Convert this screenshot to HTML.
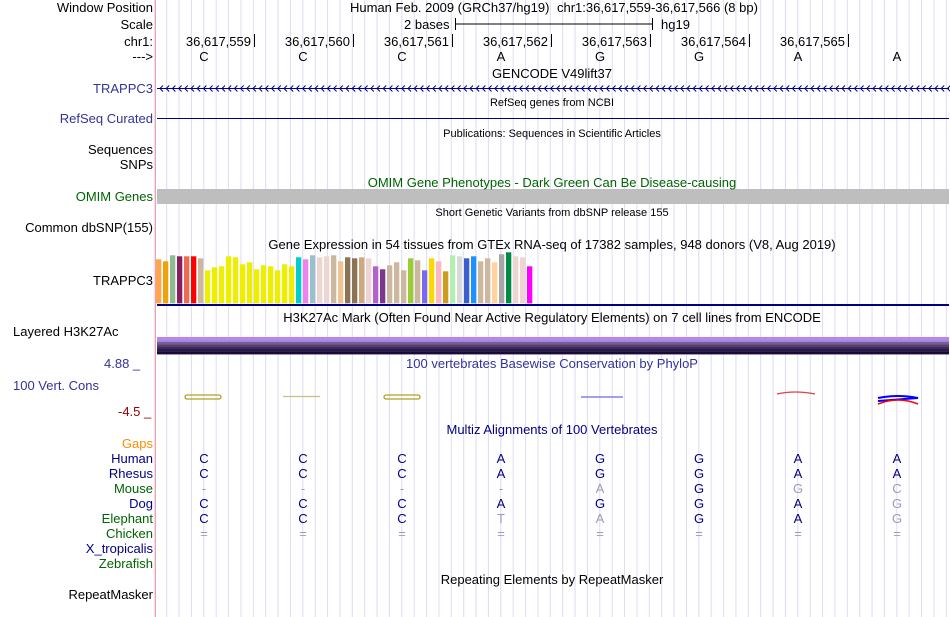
<!DOCTYPE html>
<html><head><meta charset="utf-8">
<style>
body{margin:0;width:950px;height:617px;background:#fff;overflow:hidden;position:relative;font-family:"Liberation Sans",sans-serif;font-size:13px;color:#000}
.a{position:absolute;white-space:nowrap;line-height:15px}
.l{position:absolute;right:797px;text-align:right;white-space:nowrap;line-height:15px}
.c{position:absolute;white-space:nowrap;line-height:15px;transform:translateX(-50%)}
.s{font-size:11px}
svg{position:absolute;left:0;top:0}
</style></head>
<body>
<svg id="grid" width="950" height="617"></svg>

<div class="l" style="top:0">Window Position</div>
<div class="l" style="top:17px">Scale</div>
<div class="l" style="top:34px">chr1:</div>
<div class="l" style="top:49px">---&gt;</div>
<div class="a" style="left:350px;top:0">Human Feb. 2009 (GRCh37/hg19)</div>
<div class="a" style="left:557px;top:0">chr1:36,617,559-36,617,566 (8 bp)</div>
<div class="a" style="left:404px;top:17px">2 bases</div>
<div class="a" style="left:661px;top:17px">hg19</div>

<div class="c" style="left:552px;top:66px">GENCODE V49lift37</div>
<div class="l" style="top:81px;color:#333399">TRAPPC3</div>
<div class="c s" style="left:552px;top:96px">RefSeq genes from NCBI</div>
<div class="l" style="top:111px;color:#333399">RefSeq Curated</div>
<div class="c s" style="left:552px;top:127px">Publications: Sequences in Scientific Articles</div>
<div class="l" style="top:142px">Sequences</div>
<div class="l" style="top:157px">SNPs</div>
<div class="c" style="left:552px;top:175px;color:#006400">OMIM Gene Phenotypes - Dark Green Can Be Disease-causing</div>
<div class="l" style="top:189px;color:#006400">OMIM Genes</div>
<div class="c s" style="left:552px;top:206px">Short Genetic Variants from dbSNP release 155</div>
<div class="l" style="top:220px">Common dbSNP(155)</div>
<div class="c" style="left:552px;top:237px">Gene Expression in 54 tissues from GTEx RNA-seq of 17382 samples, 948 donors (V8, Aug 2019)</div>
<div class="l" style="top:273px">TRAPPC3</div>
<div class="c" style="left:552px;top:310px">H3K27Ac Mark (Often Found Near Active Regulatory Elements) on 7 cell lines from ENCODE</div>
<div class="a" style="left:13px;top:324px">Layered H3K27Ac</div>
<div class="a" style="left:104px;top:356px;color:#333399">4.88 _</div>
<div class="c" style="left:552px;top:356px;color:#333399">100 vertebrates Basewise Conservation by PhyloP</div>
<div class="a" style="left:13px;top:378px;color:#333399">100 Vert. Cons</div>
<div class="a" style="left:118px;top:404px;color:#8b0000">-4.5 _</div>
<div class="c" style="left:552px;top:422px;color:#000080">Multiz Alignments of 100 Vertebrates</div>
<div class="l" style="top:436px;color:#ff8c00">Gaps</div>
<div id="species"></div>
<div class="c" style="left:552px;top:572px">Repeating Elements by RepeatMasker</div>
<div class="l" style="top:587px">RepeatMasker</div>

<script>
const NS="http://www.w3.org/2000/svg";
const svg=document.getElementById('grid');
function mk(t,at,parent){const e=document.createElementNS(NS,t);for(const k in at)e.setAttribute(k,at[k]);(parent||svg).appendChild(e);return e;}
// grid
for(let x=154.3;x<950;x+=12.375){const l=mk('line',{x1:x,y1:0,x2:x,y2:617,stroke:'#dcdcf4','stroke-width':1});

}
const pink=mk('line',{x1:155.5,y1:0,x2:155.5,y2:617,stroke:'#f4a0a0','stroke-width':1});



// position axis
const positions=["36,617,559","36,617,560","36,617,561","36,617,562","36,617,563","36,617,564","36,617,565"];
const bases=["C","C","C","A","G","G","A","A"];
const X0=157,BW=99;
function bx(i){return X0+BW*i;}
positions.forEach((p,i)=>{const x=bx(i+1);
const t=mk('line',{x1:x-1.5,y1:34,x2:x-1.5,y2:47,stroke:'#000'});


const tx=mk('text',{x:x-5,y:46,'text-anchor':'end','font-size':13,'font-family':'Liberation Sans'});tx.textContent=p;

});
bases.forEach((b,i)=>{const tx=mk('text',{x:bx(i)+47,y:61,'text-anchor':'middle','font-size':13,'font-family':'Liberation Sans'});tx.textContent=b;

});
// scale bar
mk('line',{x1:455,y1:24,x2:652,y2:24,stroke:'#000'});
mk('line',{x1:455.5,y1:18,x2:455.5,y2:30,stroke:'#000'});
mk('line',{x1:652.5,y1:18,x2:652.5,y2:30,stroke:'#000'});
// gene line with arrows
const g=mk('line',{x1:157,y1:88.5,x2:949,y2:88.5,stroke:'#000080'});


let d='';for(let x=160;x<948;x+=6.2){d+=`M${x+3},85.5L${x},88.5L${x+3},91.5`;}
mk('path',{d:d,stroke:'#000080',fill:'none','stroke-width':1});
const rs=mk('line',{x1:157,y1:118.5,x2:949,y2:118.5,stroke:'#000080'});


const om=mk('rect',{x:157,y:189,width:792,height:15,fill:'#bebebe'});



// GTEx bars
const gtexValues=[44,42,48,47,47,47,45,33,36,37,47,46,39,41,34,38,37,33,39,37,46,44,48,46,47,48,42,46,45,46,45,37,34,38,41,33,45,43,33,45,42,32,48,47,45,47,42,45,41,49,51,47,46,37];
const gtexColors=["#ffa54f","#eea20b","#8fbc8f","#8b1c62","#ee6a50","#ff0000","#cdb79e","#eeee00","#eeee00","#eeee00","#eeee00","#eeee00","#eeee00","#eeee00","#eeee00","#eeee00","#eeee00","#eeee00","#eeee00","#eeee00","#00cdcd","#ee82ee","#9ac0cd","#eed5d2","#eed5d2","#cdb79e","#eec591","#8b7355","#8b7355","#cdaa7d","#eed5d2","#b460cd","#7a378b","#cdb79e","#cdb79e","#cdb79e","#9acd32","#cdb79e","#7b68ee","#ffd700","#ffb6c1","#cd9b1d","#b4eeb4","#d9d9d9","#3a5fcd","#1e90ff","#cdb79e","#cdb79e","#ffd39b","#a6a6a6","#008b45","#eed5d2","#eed5d2","#ff00ff"];
const base=303.3,scaleY=1.0;
function gx(i){return 156+i*7.0;}
function gy(v){return base-v*scaleY;}
gtexValues.forEach((v,i)=>{const r=mk('rect',{x:gx(i),y:gy(v),width:5.3,height:base-gy(v),fill:gtexColors[i]});

});
mk('line',{x1:157,y1:305,x2:949,y2:305,stroke:'#000080','stroke-width':2});

// H3K27Ac layers
const layerColors=["#c080f0","#9a8ae0","#7a5a9a","#5a3a6a","#3a2a5a","#2a1a4a","#1a0a3a"];
layerColors.forEach((c,i)=>{const r=mk('rect',{x:157,y:337+i*2.4,width:792,height:i==6?3:2.4,fill:c});

});

// conservation glyphs
mk('rect',{x:185,y:395,width:36,height:4,rx:2,fill:'none',stroke:'#b0a020','stroke-width':1.3});
mk('line',{x1:283,y1:396.5,x2:320,y2:396.5,stroke:'#c8c080','stroke-width':1.2});
mk('rect',{x:384,y:395,width:36,height:4,rx:2,fill:'none',stroke:'#b0a020','stroke-width':1.3});
mk('line',{x1:581,y1:397,x2:623,y2:397,stroke:'#6a6ae0','stroke-width':1.2});
mk('path',{d:'M777,394Q795,390 815,394',stroke:'#e04040',fill:'none','stroke-width':1.2});
mk('path',{d:'M878,398Q898,394 918,398L878,401',stroke:'#0000ff',fill:'none','stroke-width':2});
mk('path',{d:'M878,404Q898,396 918,404',stroke:'#ff0000',fill:'none','stroke-width':1.5});

// species alignment
const species=["Human","Rhesus","Mouse","Dog","Elephant","Chicken","X_tropicalis","Zebrafish"];
const speciesColors=["#000080","#000080","#006400","#000080","#006400","#006400","#000080","#006400"];
const alignments=[
 ["C","C","C","A","G","G","A","A"],
 ["C","C","C","A","G","G","A","A"],
 ["-","-","-","-","a","G","g","c"],
 ["C","C","C","A","G","G","A","g"],
 ["C","C","C","t","a","G","A","g"],
 ["=","=","=","=","=","=","=","="],[],[]];
const sp=document.getElementById('species');
species.forEach((s,r)=>{const el=document.createElement('div');el.className='l';el.style.top=(451+r*15)+'px';el.style.color=speciesColors[r];el.textContent=s;


sp.appendChild(el);
alignments[r].forEach((b,i)=>{const lower=b!==b.toUpperCase()||b=='-'||b=='=';
const tx=mk('text',{x:bx(i)+47,y:463+r*15,'text-anchor':'middle','font-size':13,'font-family':'Liberation Sans',fill:lower?'#9a9ac0':'#000080'});tx.textContent=b.toUpperCase();

});});
</script>
</body></html>
